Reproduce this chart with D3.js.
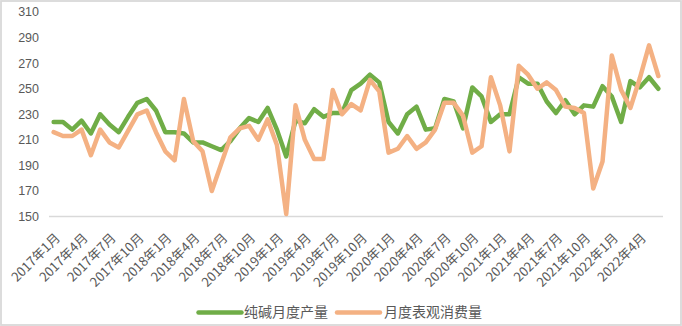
<!DOCTYPE html>
<html><head><meta charset="utf-8">
<script src="https://cdn.jsdelivr.net/npm/d3@7"></script>
<style>html,body{margin:0;padding:0;background:#fff;}svg{display:block;}</style>
</head><body>
<svg id="c" width="682" height="326"></svg>
<script>
const months = [];
for (let y = 2017; y <= 2022; y++) for (let m = 1; m <= 12; m++) { if (y === 2022 && m > 6) break; months.push(y + "年" + m + "月"); }
const production = [224,224,218,225,215,230,222,216,228,239,242,233,216,216,215,208,208,205,202,209,219,227,224,235,218,197,225,223,234,228,231,231,249,254,261,255,224,215,230,236,218,219,242,240,219,251,244,224,230,230,259,254,254,240,231,241,230,237,236,252,244,224,256,251,259,250];
const consumption = [216,213,213,218,198,218,208,204,217,230,233,216,201,194,242,209,201,170,191,212,219,221,210,226,206,152,237,210,195,195,249,230,238,233,257,248,200,203,213,203,208,218,239,239,229,200,205,259,237,201,268,261,250,255,249,236,235,231,172,193,276,249,235,258,284,260];
const yTicks = [150,170,190,210,230,250,270,290,310];
const seriesNames = ["纯碱月度产量","月度表观消费量"];
const colors = ["#70AD47","#F4B183"];

const svg = d3.select("#c");
svg.append("rect").attr("x",1).attr("y",1).attr("width",680).attr("height",324)
  .attr("fill","#fff").attr("stroke","#D9D9D9").attr("stroke-width",1.8);

const x = d3.scaleBand().domain(months).range([49,663]);
const cx = d => x(d) + x.bandwidth()/2;
const y = d3.scaleLinear().domain([150,310]).range([216.5,12.1]);

// y labels
svg.append("g").selectAll("text").data(yTicks).join("text")
  .attr("x",39).attr("y",d=>y(d)).attr("dy","0.35em").attr("text-anchor","end")
  .attr("font-family","Liberation Sans, Arial, sans-serif").attr("font-size",12.5).attr("fill","#595959")
  .text(d=>d);

// axis line
svg.append("line").attr("x1",49).attr("x2",663).attr("y1",y(150)).attr("y2",y(150))
  .attr("stroke","#D9D9D9").attr("stroke-width",1.5);

// x labels
const tickMonths = months.filter((d,i)=>i%3===0);
svg.append("g").selectAll("text").data(tickMonths).join("text")
  .attr("transform",d=>`translate(${cx(d)+4},${y(150)+19}) rotate(-45)`)
  .attr("text-anchor","end").attr("dy","0.35em")
  .attr("font-family","Noto Sans CJK SC, sans-serif").attr("font-size",13).attr("fill","#595959")
  .text(d=>d);

const line = d3.line().x((d,i)=>cx(months[i])).y(d=>y(d));
[production, consumption].forEach((s,k)=>{
  svg.append("path").attr("d",line(s)).attr("fill","none").attr("stroke",colors[k])
    .attr("stroke-width",4.5).attr("stroke-linejoin","round").attr("stroke-linecap","round");
});

// legend
const lg = [{x1:198.5,x2:241.5,tx:244},{x1:337,x2:380,tx:384}];
lg.forEach((p,k)=>{
  svg.append("line").attr("x1",p.x1).attr("x2",p.x2).attr("y1",312.5).attr("y2",312.5)
    .attr("stroke",colors[k]).attr("stroke-width",4.5).attr("stroke-linecap","round");
  svg.append("text").attr("x",p.tx).attr("y",312.5).attr("dy","0.35em")
    .attr("font-family","Noto Sans CJK SC, sans-serif").attr("font-size",14).attr("fill","#595959")
    .text(seriesNames[k]);
});
</script>
</body></html>
